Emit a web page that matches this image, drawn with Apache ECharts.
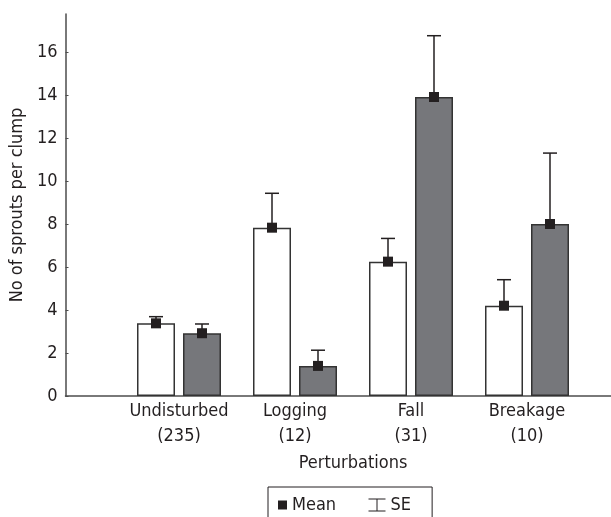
<!DOCTYPE html>
<html>
<head>
<meta charset="utf-8">
<script src="https://cdn.jsdelivr.net/npm/echarts@6/dist/echarts.min.js"></script>
<style>
html,body{margin:0;padding:0;background:#fff;}
#chart{width:611px;height:517px;}
</style>
</head>
<body>
<div id="chart"></div>
<script>
// ---- data ----
var categories = ['Undisturbed\n(235)', 'Logging\n(12)', 'Fall\n(31)', 'Breakage\n(10)'];
var whiteMean = [3.38, 7.83, 6.25, 4.20];
var whiteSE   = [0.31, 1.60, 1.08, 1.21];
var greyMean  = [2.92, 1.40, 13.91, 8.00];
var greySE    = [0.43, 0.73, 2.85, 3.30];
var yTicks = [0, 2, 4, 6, 8, 10, 12, 14, 16];

// ---- style ----
var FONT = '"DejaVu Sans Condensed", "DejaVu Sans", sans-serif';
var FS = 18;
var TXT = '#231f20';
var AX = '#4d4d4d';
var BAR_W = 38, BAR_GAP = 8;
var OFF = (BAR_W + BAR_GAP) / 2;
var YMAX = 17.77;

var pts = [];
for (var i = 0; i < categories.length; i++) {
  pts.push([i, whiteMean[i], whiteSE[i], -1]);
  pts.push([i, greyMean[i], greySE[i], 1]);
}

var chart = echarts.init(document.getElementById('chart'), null, {renderer: 'canvas'});
chart.setOption({
  animation: false,
  backgroundColor: '#fff',
  textStyle: {fontFamily: FONT, color: TXT},
  grid: [
    {left: 63, right: 0, top: 14, bottom: 121},
    {left: 121, right: 26, top: 14, bottom: 121}
  ],
  xAxis: [
    {type: 'value', gridIndex: 0, min: 0, max: 1, show: true,
     axisLine: {show: true, lineStyle: {color: AX, width: 1.5}},
     axisTick: {show: false}, axisLabel: {show: false}, splitLine: {show: false}},
    {type: 'category', gridIndex: 1, data: categories,
     name: 'Perturbations', nameLocation: 'middle', nameGap: 49,
     nameTextStyle: {fontFamily: FONT, fontSize: FS, color: TXT},
     axisLine: {show: false}, axisTick: {show: false},
     axisLabel: {fontFamily: FONT, fontSize: FS, color: TXT, lineHeight: 25, margin: 3, interval: 0}}
  ],
  yAxis: [
    {type: 'value', gridIndex: 0, min: 0, max: YMAX,
     name: 'No of sprouts per clump', nameLocation: 'middle', nameGap: 31, nameRotate: 90,
     nameTextStyle: {fontFamily: FONT, fontSize: FS, color: TXT},
     axisLine: {show: true, lineStyle: {color: AX, width: 1.5}},
     axisTick: {show: true, inside: true, length: 3, customValues: yTicks, lineStyle: {color: AX}},
     axisLabel: {fontFamily: FONT, fontSize: FS, color: TXT, margin: 8, customValues: yTicks},
     splitLine: {show: false}},
    {type: 'value', gridIndex: 1, min: 0, max: YMAX, show: false, splitLine: {show: false}}
  ],
  legend: [
    {top: 487, left: 268,
     data: [{name: 'Mean', icon: 'rect', itemStyle: {color: '#231f20'}}],
     itemWidth: 9, itemHeight: 9,
     borderColor: '#231f20', borderWidth: 1, padding: [8, 96, 14, 10],
     textStyle: {fontFamily: FONT, fontSize: FS, color: TXT, lineHeight: 20}},
    {top: 495, left: 366, padding: 0,
     data: [{name: 'SE', icon: 'path://M0,0 L17,0 M8.5,0 L8.5,12 M0,12 L17,12',
             itemStyle: {color: 'none', borderColor: '#231f20', borderWidth: 1}}],
     itemWidth: 17, itemHeight: 12,
     textStyle: {fontFamily: FONT, fontSize: FS, color: TXT, lineHeight: 20}}
  ],
  series: [
    {type: 'bar', xAxisIndex: 1, yAxisIndex: 1, data: whiteMean, barWidth: BAR_W,
     barGap: (BAR_GAP / BAR_W * 100) + '%',
     itemStyle: {color: '#ffffff', borderColor: '#333', borderWidth: 1.5}},
    {type: 'bar', xAxisIndex: 1, yAxisIndex: 1, data: greyMean, barWidth: BAR_W,
     itemStyle: {color: '#76777b', borderColor: '#333', borderWidth: 1.5}},
    {name: 'SE', type: 'custom', xAxisIndex: 1, yAxisIndex: 1, data: pts, z: 5,
     encode: {x: 0, y: 1},
     itemStyle: {color: '#231f20'},
     renderItem: function (params, api) {
       var c = api.value(0), m = api.value(1), se = api.value(2), side = api.value(3);
       var p0 = api.coord([c, m]);
       var p1 = api.coord([c, m + se]);
       var x = p0[0] + side * OFF;
       var st = {stroke: '#231f20', lineWidth: 1.5};
       return {type: 'group', children: [
         {type: 'line', shape: {x1: x, y1: p0[1], x2: x, y2: p1[1]}, style: st},
         {type: 'line', shape: {x1: x - 7, y1: p1[1], x2: x + 7, y2: p1[1]}, style: st}
       ]};
     }},
    {name: 'Mean', type: 'custom', xAxisIndex: 1, yAxisIndex: 1, data: pts, z: 6,
     encode: {x: 0, y: 1},
     itemStyle: {color: '#231f20'},
     renderItem: function (params, api) {
       var c = api.value(0), m = api.value(1), side = api.value(3);
       var p0 = api.coord([c, m]);
       var x = p0[0] + side * OFF;
       return {type: 'rect', shape: {x: x - 5, y: p0[1] - 5, width: 10, height: 10},
               style: {fill: '#231f20'}};
     }}
  ]
});
</script>
</body>
</html>
